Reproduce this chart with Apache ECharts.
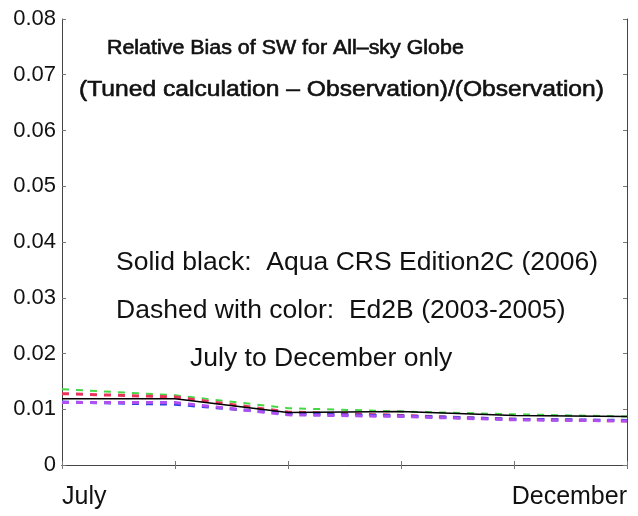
<!DOCTYPE html>
<html>
<head>
<meta charset="utf-8">
<script src="https://cdn.jsdelivr.net/npm/echarts@6/dist/echarts.min.js"></script>
<style>html,body{margin:0;padding:0;background:#fff}#c{width:638px;height:516px}</style>
</head>
<body>
<div id="c"></div>
<script>
var months = ['July', 'August', 'September', 'October', 'November', 'December'];
var yTicks = [0, 0.01, 0.02, 0.03, 0.04, 0.05, 0.06, 0.07, 0.08];
var aquaEd2C = [0.0119, 0.0119, 0.0094, 0.0096, 0.0089, 0.0087];
var ed2bGreen = [0.0136, 0.0125, 0.0102, 0.0096, 0.0091, 0.0087];
var ed2bRed = [0.0128, 0.0122, 0.0095, 0.0089, 0.0082, 0.0079];
var ed2bBlue = [0.0113, 0.0109, 0.0092, 0.0088, 0.0082, 0.0080];
var ed2bMagenta = [0.0112, 0.0112, 0.0090, 0.0087, 0.0081, 0.0079];

var F = 'Liberation Sans, Arial, Helvetica, sans-serif';
var chart = echarts.init(document.getElementById('c'));
function dashed(name, data, color, w) {
  return {
    name: name, type: 'line', data: data, symbol: 'none', z: 2,
    lineStyle: { color: color, width: w, type: [7, 7] }
  };
}
var axisLineStyle = { color: '#444', width: 1 };
var tickStyle = { color: '#777' };
function txt(s, x, y, font, sx, stroke) {
  var st = { text: s, font: font + ' ' + F, fill: '#111', textVerticalAlign: 'middle', textAlign: 'left' };
  if (stroke) { st.stroke = '#111'; st.lineWidth = stroke; }
  return { type: 'text', x: x, y: y, scaleX: sx, originX: 0, originY: 0, style: st };
}
chart.setOption({
  animation: false,
  backgroundColor: '#fff',
  grid: { left: 62, right: 11, top: 19, bottom: 51, containLabel: false },
  xAxis: [{
    type: 'category', data: months, boundaryGap: false, position: 'bottom',
    axisLine: { lineStyle: axisLineStyle },
    axisTick: { inside: true, length: 4, lineStyle: tickStyle },
    axisLabel: {
      margin: 20, fontSize: 25, color: '#111', fontFamily: F,
      interval: 0, alignMinLabel: 'left', alignMaxLabel: 'right',
      formatter: function (v, i) { return (i === 0 || i === months.length - 1) ? v : ''; }
    },
    splitLine: { show: false }
  }, {
    type: 'category', data: months, boundaryGap: false, position: 'top',
    axisLine: { lineStyle: axisLineStyle },
    axisTick: { inside: true, length: 4, lineStyle: tickStyle },
    axisLabel: { show: false }, splitLine: { show: false }
  }],
  yAxis: [{
    type: 'value', min: 0, max: 0.08, interval: 0.01, position: 'left',
    axisLine: { show: true, lineStyle: axisLineStyle },
    axisTick: { show: true, inside: true, length: 4, lineStyle: tickStyle },
    axisLabel: {
      margin: 6, fontSize: 22, color: '#111', fontFamily: F,
      formatter: function (v) {
        for (var i = 0; i < yTicks.length; i++) {
          if (Math.abs(yTicks[i] - v) < 1e-9) return i === 0 ? '0' : yTicks[i].toFixed(2);
        }
        return '';
      }
    },
    splitLine: { show: false }
  }, {
    type: 'value', min: 0, max: 0.08, interval: 0.01, position: 'right',
    axisLine: { show: true, lineStyle: axisLineStyle },
    axisTick: { show: true, inside: true, length: 4, lineStyle: tickStyle },
    axisLabel: { show: false }, splitLine: { show: false }
  }],
  series: [
    dashed('Ed2B green', ed2bGreen, '#45d845', 2),
    dashed('Ed2B red', ed2bRed, '#e8345a', 3),
    dashed('Ed2B blue', ed2bBlue, '#3344dd', 3),
    dashed('Ed2B magenta', ed2bMagenta, '#b050f0', 3),
    {
      name: 'Aqua CRS Edition2C', type: 'line', data: aquaEd2C, symbol: 'none', z: 3,
      lineStyle: { color: '#000', width: 1.5 }
    }
  ],
  graphic: [
    txt('Relative Bias of SW for All\u2013sky Globe', 107, 48, '20px', 1.07, 0.6),
    txt('(Tuned calculation \u2013 Observation)/(Observation)', 79, 90, '22px', 1.12, 0.6),
    txt('Solid black:  Aqua CRS Edition2C (2006)', 116, 263, '26px', 1.02),
    txt('Dashed with color:  Ed2B (2003-2005)', 116, 311, '26px', 1.02),
    txt('July to December only', 190, 359, '26px', 1.02)
  ]
});
</script>
</body>
</html>
